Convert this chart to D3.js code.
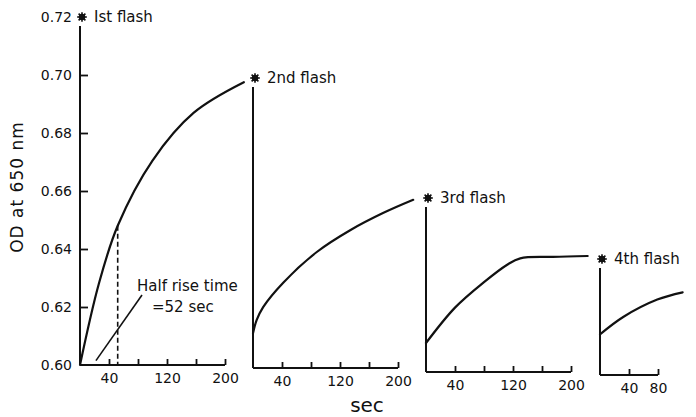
<!DOCTYPE html>
<html>
<head>
<meta charset="utf-8">
<script src="https://cdn.jsdelivr.net/npm/d3@7"></script>
<style>
  body { margin: 0; background: #fff; }
  svg text { font-family: "DejaVu Sans", sans-serif; fill: #111; }
</style>
</head>
<body>
<svg id="chart" width="696" height="417"></svg>
<script>
// ---- data ----
const flashLabels = ["Ist flash", "2nd flash", "3rd flash", "4th flash"];
const flashOD = [0.720, 0.700, 0.660, 0.640];   // OD at which each flash is fired

const flash1Time = [0, 26, 52, 100, 157, 226];
const flash1OD   = [0.600, 0.628, 0.648, 0.6705, 0.687, 0.6975];

const flash2Time = [0, 5, 14, 42, 88, 134, 180, 221];
const flash2OD   = [0.612, 0.6165, 0.621, 0.6295, 0.640, 0.6475, 0.6535, 0.658];

const flash3Time = [0, 40, 80, 112, 130, 175, 223];
const flash3OD   = [0.610, 0.6222, 0.631, 0.637, 0.6392, 0.6397, 0.640];

const flash4Time = [0, 32, 79, 114];
const flash4OD   = [0.614, 0.620, 0.626, 0.6285];

const yTicks = [0.60, 0.62, 0.64, 0.66, 0.68, 0.70, 0.72];
const xTicks = [40, 80, 120, 160, 200];
const xTickLabels = [40, 120, 200];
const xTicks4 = [40, 80];
const xTickLabels4 = [40, 80];
const halfRiseTime = 52;
const halfRiseOD = 0.648;

// ---- layout ----
const originX = [80, 253, 426, 600];
const baseY   = [365, 368, 372, 375];
const xMax    = [200, 200, 200, 80];
const pxPerSec = 29 / 40;
const pxPerOD = 2900;

const curves = [
  d3.zip(flash1Time, flash1OD),
  d3.zip(flash2Time, flash2OD),
  d3.zip(flash3Time, flash3OD),
  d3.zip(flash4Time, flash4OD)
];

const svg = d3.select("#chart");

function drawStar(x, y) {
  const g = svg.append("g").attr("transform", `translate(${x},${y})`);
  g.append("circle").attr("r", 3.2).attr("fill", "#111");
  d3.range(8).forEach(i => {
    const a = i * Math.PI / 4;
    g.append("line")
      .attr("x1", 0).attr("y1", 0)
      .attr("x2", 4.8 * Math.cos(a)).attr("y2", 4.8 * Math.sin(a))
      .attr("stroke", "#111").attr("stroke-width", 1.6);
  });
}

curves.forEach((pts, i) => {
  const x = d3.scaleLinear().domain([0, xMax[i]])
    .range([originX[i], originX[i] + xMax[i] * pxPerSec]);
  const y = d3.scaleLinear().domain([0.60, 0.72])
    .range([baseY[i], baseY[i] - 0.12 * pxPerOD]);

  const g = svg.append("g");

  // vertical axis line (stops just under the flash marker)
  const starY = y(flashOD[i]);
  g.append("line")
    .attr("x1", originX[i]).attr("x2", originX[i])
    .attr("y1", baseY[i]).attr("y2", starY + 9)
    .attr("stroke", "#111").attr("stroke-width", 2);

  // horizontal axis
  const ticks = i === 3 ? xTicks4 : xTicks;
  const labels = i === 3 ? xTickLabels4 : xTickLabels;
  const xa = g.append("g")
    .attr("transform", `translate(0,${baseY[i]})`)
    .call(d3.axisBottom(x).tickValues(ticks).tickSize(-6).tickPadding(8)
      .tickFormat(d => labels.includes(d) ? d : ""));
  xa.select(".domain").remove();
  xa.selectAll(".tick line").attr("stroke", "#111").attr("stroke-width", 1.8);
  xa.selectAll(".tick text").attr("font-size", 14).style("font-family", "DejaVu Sans");
  g.append("line")
    .attr("x1", x(0)).attr("x2", x(xMax[i]))
    .attr("y1", baseY[i]).attr("y2", baseY[i])
    .attr("stroke", "#111").attr("stroke-width", 2);

  // y ticks on first panel only
  if (i === 0) {
    const ya = g.append("g")
      .attr("transform", `translate(${originX[i]},0)`)
      .call(d3.axisLeft(y).tickValues(yTicks).tickSize(-8).tickPadding(8)
        .tickFormat(d3.format(".2f")));
    ya.select(".domain").remove();
    ya.selectAll(".tick line")
      .attr("stroke", "#111").attr("stroke-width", 1.8)
      .attr("display", d => (d === 0.60 || d === 0.72) ? "none" : null);
    ya.selectAll(".tick text").attr("font-size", 14).style("font-family", "DejaVu Sans");
  }

  // the recovery curve
  g.append("path")
    .datum(pts)
    .attr("fill", "none")
    .attr("stroke", "#111")
    .attr("stroke-width", 2.2)
    .attr("stroke-linecap", "round")
    .attr("d", d3.line().x(d => x(d[0])).y(d => y(d[1])).curve(d3.curveCatmullRom.alpha(0.5)));

  // flash marker and label
  drawStar(originX[i] + 2, starY);
  g.append("text")
    .attr("x", originX[i] + 14).attr("y", starY)
    .attr("dominant-baseline", "middle")
    .attr("font-size", 15)
    .text(flashLabels[i]);

  // half rise time annotation on first panel
  if (i === 0) {
    g.append("line")
      .attr("x1", x(halfRiseTime)).attr("x2", x(halfRiseTime))
      .attr("y1", y(halfRiseOD)).attr("y2", baseY[i])
      .attr("stroke", "#111").attr("stroke-width", 1.6)
      .attr("stroke-dasharray", "5,3");
    g.append("line")
      .attr("x1", 142).attr("y1", 295)
      .attr("x2", x(22)).attr("y2", y(0.6015))
      .attr("stroke", "#111").attr("stroke-width", 1.6);
    g.append("text").attr("x", 137).attr("y", 291).attr("font-size", 15).text("Half rise time");
    g.append("text").attr("x", 152).attr("y", 312).attr("font-size", 15).text("=52 sec");
  }
});

// axis titles
svg.append("text")
  .attr("transform", "translate(23,187) rotate(-90)")
  .attr("text-anchor", "middle")
  .attr("font-size", 17)
  .attr("letter-spacing", 1)
  .text("OD at 650 nm");

svg.append("text")
  .attr("x", 367).attr("y", 412)
  .attr("text-anchor", "middle")
  .attr("font-size", 20)
  .text("sec");
</script>
</body>
</html>
